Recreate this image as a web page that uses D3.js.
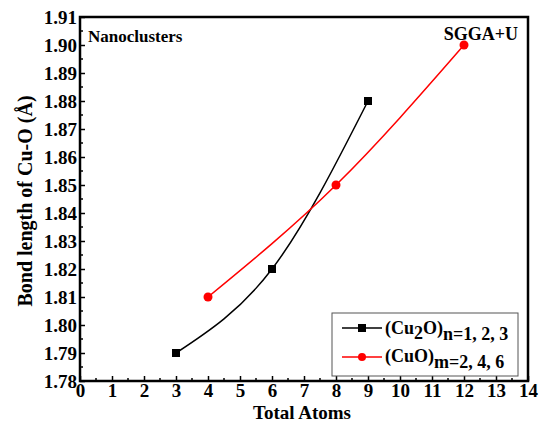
<!DOCTYPE html>
<html><head><meta charset="utf-8">
<script src="https://cdn.jsdelivr.net/npm/d3@7/dist/d3.min.js"></script>
<style>body{margin:0;background:#fff}svg text{font-family:"Liberation Serif","Times New Roman","DejaVu Serif",serif !important;font-weight:bold}</style>
</head><body>
<svg id="c" width="547" height="423"></svg>
<script>
const cu2oAtoms = [3, 6, 9];
const cu2oBond = [1.79, 1.82, 1.88];
const cuoAtoms = [4, 8, 12];
const cuoBond = [1.81, 1.85, 1.90];
const xTicks = [0,1,2,3,4,5,6,7,8,9,10,11,12,13,14];
const yTicks = [1.78,1.79,1.80,1.81,1.82,1.83,1.84,1.85,1.86,1.87,1.88,1.89,1.90,1.91];

const svg = d3.select("#c");
const L = 80, R = 528, T = 17, B = 381;
const x = d3.scaleLinear().domain([0,14]).range([L,R]);
const y = d3.scaleLinear().domain([1.78,1.91]).range([B,T]);

const g = svg.append("g");
d3.range(0.5,14,1).forEach(v=>{
  g.append("line").attr("x1",x(v)).attr("x2",x(v)).attr("y1",B).attr("y2",B-3).attr("stroke","#000").attr("stroke-width",1.5);
});
d3.range(1.785,1.91,0.01).forEach(v=>{
  g.append("line").attr("x1",L).attr("x2",L+3).attr("y1",y(v)).attr("y2",y(v)).attr("stroke","#000").attr("stroke-width",1.5);
});

const xAxis = d3.axisBottom(x).tickValues(xTicks).tickFormat(d3.format("d")).tickSizeInner(-5).tickSizeOuter(0).tickPadding(3);
const yAxis = d3.axisLeft(y).tickValues(yTicks).tickFormat(d3.format(".2f")).tickSizeInner(-5).tickSizeOuter(0).tickPadding(3);
const gx = svg.append("g").attr("transform",`translate(0,${B})`).call(xAxis);
const gy = svg.append("g").attr("transform",`translate(${L},0)`).call(yAxis);
[gx,gy].forEach(a=>{
  a.select(".domain").remove();
  a.selectAll("line").attr("stroke","#000").attr("stroke-width",1.5);
  a.selectAll("text").attr("font-size",19).attr("fill","#000");
});
gx.selectAll("text").attr("y",3).attr("dy","0.68em");
gy.selectAll("text").attr("dy","0.35em");

svg.append("rect").attr("x",L).attr("y",T).attr("width",R-L).attr("height",B-T).attr("fill","none").attr("stroke","#000").attr("stroke-width",2.5);

const line = d3.line().x(d=>x(d[0])).y(d=>y(d[1])).curve(d3.curveNatural);
const s1 = cu2oAtoms.map((a,i)=>[a,cu2oBond[i]]);
const s2 = cuoAtoms.map((a,i)=>[a,cuoBond[i]]);
svg.append("path").attr("d",line(s1)).attr("fill","none").attr("stroke","#000").attr("stroke-width",1.5);
svg.append("path").attr("d",line(s2)).attr("fill","none").attr("stroke","#ff0000").attr("stroke-width",1.5);
svg.selectAll(".sq").data(s1).enter().append("rect").attr("x",d=>x(d[0])-4).attr("y",d=>y(d[1])-4).attr("width",8).attr("height",8).attr("fill","#000");
svg.selectAll(".ci").data(s2).enter().append("circle").attr("cx",d=>x(d[0])).attr("cy",d=>y(d[1])).attr("r",4.5).attr("fill","#ff0000");

svg.append("text").attr("x",(L+R)/2 - 2).attr("y",419).attr("text-anchor","middle").attr("font-size",19).text("Total Atoms");
svg.append("text").attr("transform",`translate(32,${(T+B)/2 + 2}) rotate(-90)`).attr("text-anchor","middle").attr("font-size",20).text("Bond length of Cu-O (Å)");
svg.append("text").attr("x",88).attr("y",42).attr("font-size",17).text("Nanoclusters");
svg.append("text").attr("x",518).attr("y",40).attr("text-anchor","end").attr("font-size",18).text("SGGA+U");

const lg = svg.append("g");
lg.append("rect").attr("x",332).attr("y",313).attr("width",186).attr("height",63).attr("fill","#fff").attr("stroke","#555").attr("stroke-width",1);
lg.append("line").attr("x1",342).attr("x2",382).attr("y1",328).attr("y2",328).attr("stroke","#000").attr("stroke-width",1.5);
lg.append("rect").attr("x",358).attr("y",324).attr("width",8).attr("height",8).attr("fill","#000");
lg.append("line").attr("x1",342).attr("x2",382).attr("y1",357).attr("y2",357).attr("stroke","#ff0000").attr("stroke-width",1.5);
lg.append("circle").attr("cx",362).attr("cy",357).attr("r",4).attr("fill","#ff0000");
const t1 = lg.append("text").attr("x",385).attr("y",334).attr("font-size",18);
t1.append("tspan").text("(Cu");
t1.append("tspan").attr("dy",5).text("2");
t1.append("tspan").attr("dy",-5).text("O)");
t1.append("tspan").attr("dy",6).text("n=1, 2, 3");
const t2 = lg.append("text").attr("x",385).attr("y",362).attr("font-size",18);
t2.append("tspan").text("(CuO)");
t2.append("tspan").attr("dy",6).text("m=2, 4, 6");
</script>
</body></html>
